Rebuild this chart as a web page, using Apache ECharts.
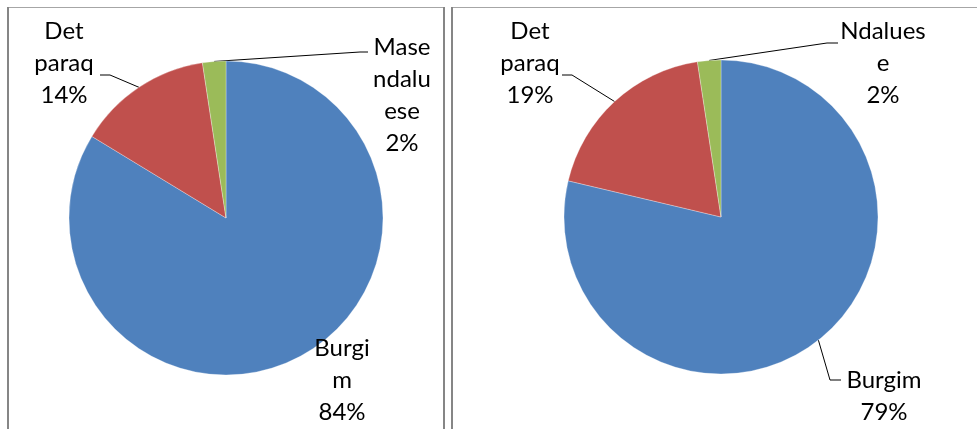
<!DOCTYPE html>
<html>
<head>
<meta charset="utf-8">
<script src="https://cdn.jsdelivr.net/npm/echarts@6/dist/echarts.min.js"></script>
<style>
  html, body { margin: 0; padding: 0; background: #fff; }
  #chart { width: 977px; height: 429px; }
</style>
</head>
<body>
<div id="chart"></div>
<script>
// left pie
const leftNames = ['Burgim', 'Det paraq', 'Mase ndaluese'];
const leftValues = [83.7, 13.9, 2.4];
const leftLabelText = ['Burgi\nm', 'Det\nparaq', 'Mase\nndalu\nese'];

// right pie
const rightNames = ['Burgim', 'Det paraq', 'Ndaluese'];
const rightValues = [78.7, 18.9, 2.4];
const rightLabelText = ['Burgim', 'Det\nparaq', 'Ndalues\ne'];

const colors = ['#4F81BD', '#C0504D', '#9BBB59'];

// label anchor + elbow of the leader line, per slice
const leftLabelPos = [
  { x: 342, y: 380, line: null },
  { x: 64, y: 63, line: [[110, 75], [100, 75]] },
  { x: 402, y: 95, line: [[360, 52], [368, 52]] }
];
const rightLabelPos = [
  { x: 884, y: 396, line: [[830, 380], [841, 380]] },
  { x: 530, y: 63, line: [[572, 75], [562, 75]] },
  { x: 883, y: 63, line: [[827, 43], [838, 43]] }
];

function makeSeries(names, values, texts, pos, center) {
  return {
    type: 'pie',
    center: center,
    radius: 157,
    startAngle: 90,
    clockwise: true,
    avoidLabelOverlap: false,
    silent: true,
    itemStyle: { borderColor: '#fff', borderWidth: 0.3 },
    label: {
      show: true,
      position: 'outside',
      color: '#000',
      fontFamily: 'Lato',
      fontSize: 24,
      lineHeight: 32,
      align: 'center',
      formatter: function (p) {
        return texts[p.dataIndex] + '\n' + Math.round(p.percent) + '%';
      }
    },
    labelLine: {
      show: true,
      length: 10,
      length2: 10,
      smooth: false,
      lineStyle: { color: '#000', width: 1 }
    },
    labelLayout: function (params) {
      const p = pos[params.dataIndex];
      const out = { x: p.x, y: p.y, align: 'center', verticalAlign: 'middle' };
      if (p.line && params.labelLinePoints) {
        out.labelLinePoints = [params.labelLinePoints[0]].concat(p.line);
      }
      return out;
    },
    data: names.map(function (n, i) {
      return {
        name: n,
        value: values[i],
        itemStyle: { color: colors[i] },
        labelLine: { show: !!pos[i].line }
      };
    })
  };
}

const chart = echarts.init(document.getElementById('chart'), null, { renderer: 'canvas' });
chart.setOption({
  animation: false,
  graphic: [
    { type: 'line', shape: { x1: 7, y1: 7.5, x2: 445, y2: 7.5 }, style: { stroke: '#a6a6a6', lineWidth: 1 } },
    { type: 'line', shape: { x1: 451, y1: 7.5, x2: 977, y2: 7.5 }, style: { stroke: '#a6a6a6', lineWidth: 1 } },
    { type: 'line', shape: { x1: 8, y1: 7, x2: 8, y2: 429 }, style: { stroke: '#868686', lineWidth: 2 } },
    { type: 'line', shape: { x1: 444, y1: 7, x2: 444, y2: 429 }, style: { stroke: '#868686', lineWidth: 2 } },
    { type: 'line', shape: { x1: 452, y1: 7, x2: 452, y2: 429 }, style: { stroke: '#868686', lineWidth: 2 } }
  ],
  series: [
    makeSeries(leftNames, leftValues, leftLabelText, leftLabelPos, [226, 218]),
    makeSeries(rightNames, rightValues, rightLabelText, rightLabelPos, [721, 217])
  ]
});
</script>
</body>
</html>
